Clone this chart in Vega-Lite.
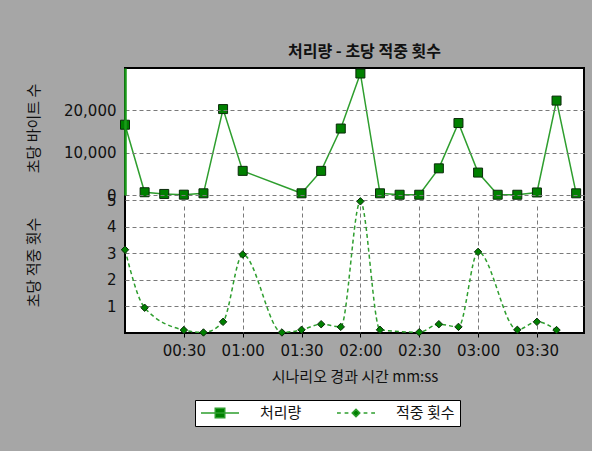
{
  "$schema": "https://vega.github.io/schema/vega-lite/v6.json",
  "autosize": {"type": "none"},
  "padding": {"left": 125, "top": 68, "right": 8, "bottom": 118},
  "width": 459,
  "height": 265,
  "background": "#a6a6a6",
  "title": {"text": "처리량 - 초당 적중 횟수", "font": "Noto Sans CJK KR", "fontSize": 16, "fontWeight": "bold", "color": "#111111", "anchor": "middle", "frame": "group", "offset": 7, "dx": 10},
  "config": {
    "view": {"stroke": "#000000", "strokeWidth": 2, "fill": "#ffffff"},
    "axis": {"labelFont": "DejaVu Sans", "labelFontSize": 15, "labelColor": "#111111", "titleFont": "Noto Sans CJK KR", "titleFontSize": 15, "titleFontWeight": "normal", "titleColor": "#111111", "gridColor": "#7a7a7a", "gridDash": [4, 3], "gridWidth": 1, "gridOpacity": 1}
  },
  "data": {"values": [
    {"t": 0, "series": "처리량", "value": 16600},
    {"t": 10, "series": "처리량", "value": 650},
    {"t": 20, "series": "처리량", "value": 250},
    {"t": 30, "series": "처리량", "value": 80},
    {"t": 40, "series": "처리량", "value": 400},
    {"t": 50, "series": "처리량", "value": 20300},
    {"t": 60, "series": "처리량", "value": 5700},
    {"t": 90, "series": "처리량", "value": 400},
    {"t": 100, "series": "처리량", "value": 5700},
    {"t": 110, "series": "처리량", "value": 15700},
    {"t": 120, "series": "처리량", "value": 28700},
    {"t": 130, "series": "처리량", "value": 400},
    {"t": 140, "series": "처리량", "value": 60},
    {"t": 150, "series": "처리량", "value": 60},
    {"t": 160, "series": "처리량", "value": 6300},
    {"t": 170, "series": "처리량", "value": 17000},
    {"t": 180, "series": "처리량", "value": 5300},
    {"t": 190, "series": "처리량", "value": 60},
    {"t": 200, "series": "처리량", "value": 60},
    {"t": 210, "series": "처리량", "value": 600},
    {"t": 220, "series": "처리량", "value": 22300},
    {"t": 230, "series": "처리량", "value": 400},
    {"t": 0, "series": "적중 횟수", "value": 3.13},
    {"t": 10, "series": "적중 횟수", "value": 0.95},
    {"t": 30, "series": "적중 횟수", "value": 0.11},
    {"t": 40, "series": "적중 횟수", "value": 0.02},
    {"t": 50, "series": "적중 횟수", "value": 0.42},
    {"t": 60, "series": "적중 횟수", "value": 2.95},
    {"t": 80, "series": "적중 횟수", "value": 0.02},
    {"t": 90, "series": "적중 횟수", "value": 0.12},
    {"t": 100, "series": "적중 횟수", "value": 0.33},
    {"t": 110, "series": "적중 횟수", "value": 0.23},
    {"t": 120, "series": "적중 횟수", "value": 4.95},
    {"t": 130, "series": "적중 횟수", "value": 0.12},
    {"t": 150, "series": "적중 횟수", "value": 0.03},
    {"t": 160, "series": "적중 횟수", "value": 0.33},
    {"t": 170, "series": "적중 횟수", "value": 0.23},
    {"t": 180, "series": "적중 횟수", "value": 3.05},
    {"t": 200, "series": "적중 횟수", "value": 0.12},
    {"t": 210, "series": "적중 횟수", "value": 0.42},
    {"t": 220, "series": "적중 횟수", "value": 0.11}
  ]},
  "encoding": {
    "x": {
      "field": "t", "type": "quantitative",
      "scale": {"domain": [0, 234], "nice": false, "zero": false},
      "axis": {
        "values": [30, 60, 90, 120, 150, 180, 210],
        "labelExpr": "format(floor(datum.value/60),'02d') + ':' + format(datum.value%60,'02d')",
        "title": "시나리오 경과 시간 mm:ss",
        "tickSize": 4, "tickColor": "#000000", "domain": false,
        "labelPadding": 6, "titlePadding": 11, "grid": true, "labelFlush": false
      }
    }
  },
  "layer": [
    {
      "transform": [{"filter": "datum.series === '처리량'"}],
      "encoding": {
        "y": {
          "field": "value", "type": "quantitative",
          "scale": {"domain": [0, 30000], "range": [127, 0], "nice": false},
          "axis": {
            "orient": "left", "values": [0, 10000, 20000], "format": ",d",
            "title": "초당 바이트 수", "titleX": -92, "titleY": 60, "titleAngle": -90,
            "titleBaseline": "middle", "titleAlign": "center",
            "ticks": false, "labelPadding": 9, "domain": true, "domainColor": "#1a9a1a", "domainWidth": 2.5,
            "zindex": 1, "labelOverlap": false, "labelBound": false, "labelFlush": false, "grid": true
          }
        }
      },
      "layer": [
        {
          "mark": {"type": "line", "strokeWidth": 1.5},
          "encoding": {
            "color": {
              "field": "series", "type": "nominal",
              "scale": {"domain": ["처리량", "적중 횟수"], "range": ["#2e9e2e", "#2e9e2e"]},
              "legend": {
                "title": null, "orient": "none", "legendX": 70, "legendY": 332, "direction": "horizontal",
                "fillColor": "#ffffff", "strokeColor": "#000000", "padding": 5,
                "symbolSize": 1444, "clipHeight": 16,
                "labelFont": "Noto Sans CJK KR", "labelFontSize": 15, "labelColor": "#111111",
                "labelOffset": 20, "columnPadding": 34, "symbolStrokeWidth": 1.5,
                "encode": {"symbols": {"update": {
                  "shape": {"signal": "datum.value === '처리량' ? 'M-1,0H1M-0.25,-0.25H0.25V0.25H-0.25Z' : 'M-1,0H-0.8M-0.6,0H-0.4M-0.2,0L0,-0.2L0.2,0L0,0.2ZM0.4,0H0.6M0.8,0H1'"},
                  "fill": {"value": "#008000"},
                  "stroke": {"value": "#2e9e2e"},
                  "strokeDash": {"value": []},
                  "opacity": {"value": 1}
                }}}
              }
            }
          }
        },
        {
          "mark": {"type": "point", "shape": "square", "filled": true, "size": 81, "color": "#008000", "stroke": "#0a2a0a", "strokeWidth": 1, "opacity": 1}
        }
      ]
    },
    {
      "transform": [{"filter": "datum.series === '적중 횟수'"}],
      "encoding": {
        "y": {
          "field": "value", "type": "quantitative",
          "scale": {"domain": [0, 5], "range": [265, 132], "nice": false},
          "axis": {
            "orient": "left", "values": [1, 2, 3, 4, 5],
            "title": "초당 적중 횟수", "titleX": -92, "titleY": 194, "titleAngle": -90,
            "titleBaseline": "middle", "titleAlign": "center",
            "ticks": false, "labelPadding": 9, "domain": false,
            "labelOverlap": false, "labelBound": false, "labelFlush": false, "grid": true
          }
        }
      },
      "layer": [
        {
          "mark": {"type": "line", "interpolate": "monotone", "strokeDash": [4, 3], "strokeWidth": 1.5},
          "encoding": {
            "color": {"field": "series", "type": "nominal"}
          }
        },
        {
          "mark": {"type": "point", "shape": "diamond", "filled": true, "size": 55, "color": "#008000", "stroke": "#0a2a0a", "strokeWidth": 1, "opacity": 1}
        }
      ]
    }
  ],
  "resolve": {"scale": {"y": "independent"}, "axis": {"y": "independent"}}
}
